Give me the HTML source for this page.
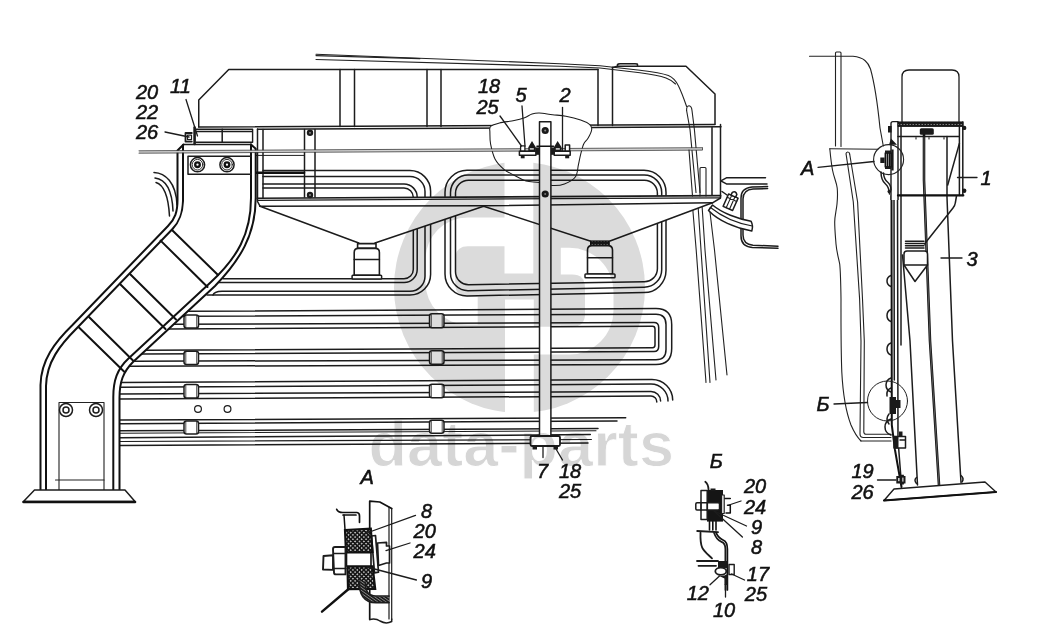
<!DOCTYPE html>
<html><head><meta charset="utf-8"><title>data-parts</title>
<style>
html,body{margin:0;padding:0;background:#fff;}
body{width:1040px;height:644px;overflow:hidden;}
svg{display:block}
.l{fill:none;stroke:#1c1c1c;stroke-width:1.5;stroke-linecap:round;stroke-linejoin:round}
.t{fill:none;stroke:#222;stroke-width:1.1;stroke-linecap:round;stroke-linejoin:round}
.k{fill:none;stroke:#111;stroke-width:1.9;stroke-linecap:round;stroke-linejoin:round}
.kk{fill:none;stroke:#111;stroke-width:2.6;stroke-linecap:round;stroke-linejoin:round}
.w{fill:#fff;stroke:#1c1c1c;stroke-width:1.5;stroke-linejoin:round}
.d{fill:#1a1a1a;stroke:none}
.n{font-family:"Liberation Sans",sans-serif;font-style:italic;font-size:20px;fill:#111;stroke:#111;stroke-width:.55px}
.wm{font-family:"Liberation Sans",sans-serif;font-weight:bold;font-size:63px;fill:#d6d6d6;stroke:#fff;stroke-width:1px;letter-spacing:.1px}
</style></head><body>
<svg width="1040" height="644" viewBox="0 0 1040 644">
<!-- ===== FRONT VIEW ===== -->
<!-- cab outline lines (top) -->
<g class="t">
<path d="M316,54.2 L560,63.7 L600,65.8 L640,70.2 C652,71.5 662,73 668.4,75.6 C673,77.5 676,81 678.5,86 C681.5,92 684,99 686.6,106.5"/>
<path d="M316,59.5 L560,66.3 L600,68 L640,72.7 C650,74 660,75.8 666,78 C670,79.5 673,81.5 675.5,84"/>
<path d="M316,55.6 L420,58.6"/>
<path d="M686.6,110.5 Q686.4,106 689,105.8 Q691.6,106 692,110.5 L694.4,129.5 L700,192.5"/>
<path d="M686.6,110.5 L690,129.5 L696,192.5"/>
</g>
<!-- tank -->
<g class="l">
<path d="M198.75,127 V100 L228.75,69.5 H598"/>
<path d="M612.5,67.5 L617.5,66.2 H686 L715,94 V124"/>
<path d="M617.5,66.2 V64.5 Q618,63.8 620,63.8 H635 Q637.5,63.8 637.5,64.5 V66.2"/>
<path d="M340,69.5 V126.5 M354.5,69.5 V126.5 M427,69.5 V126.5 M441,69.5 V126.5 M598,69.5 V125.5 M612.5,67.5 V125.5"/>
<path d="M198.75,127 L715,124.6"/>
<path d="M257.5,129.3 L721,126.8"/>
</g>
<!-- frame sides -->
<g class="l">
<path d="M257.5,129 V199 M263,129.5 V199"/>
<path d="M720.5,124.5 V196.5 M712,127.5 V196.5"/>
<path d="M304.5,129.5 V199 M315,129.5 V199"/>
</g>
<!-- cloud breakout -->
<path class="w" style="stroke-width:1.05" d="M490.6,126.5 C492.2,124.9 495.6,123.9 499.5,122.9 C503.4,121.9 510.0,121.5 514.2,120.6 C518.4,119.7 521.6,118.8 524.6,117.7 C527.6,116.6 529.5,114.8 532.0,114.0 C534.5,113.2 535.9,112.9 539.3,113.0 C542.7,113.1 548.2,114.2 552.6,114.7 C557.0,115.2 561.2,115.3 565.9,116.2 C570.6,117.1 576.7,118.6 580.6,119.9 C584.5,121.2 587.6,122.7 589.5,124.3 C591.4,125.9 592.0,127.2 591.7,129.5 C591.5,131.8 589.4,135.9 588.0,138.3 C586.6,140.8 584.8,141.5 583.6,144.2 C582.4,146.9 581.5,151.1 580.6,154.6 C579.7,158.1 579.2,161.2 578.4,164.9 C577.5,168.6 577.8,173.5 575.5,176.7 C573.2,179.9 568.2,182.5 564.4,184.0 C560.6,185.5 556.8,185.7 552.6,185.5 C548.4,185.3 543.7,183.3 539.3,182.6 C534.9,181.8 530.2,182.2 526.0,181.0 C521.8,179.8 517.9,177.1 514.2,175.2 C510.5,173.2 507.1,172.0 503.9,169.3 C500.7,166.6 497.2,163.2 495.0,159.0 C492.8,154.8 491.5,148.6 490.6,144.2 C489.8,139.8 489.9,135.3 489.9,132.4 C489.9,129.5 489.0,128.1 490.6,126.5 Z"/>
<!-- pipes inside frame / loops -->
<g class="l">
<path d="M263,170.6 H410 A20.6,20.6 0 0 1 430.6,191.2 V274.5 A20.6,20.6 0 0 1 410,295 H207"/>
<path d="M263,176.6 H410 A15,15 0 0 1 425,191.6 V276.25 A15,15 0 0 1 410,291.25 H222 Q214,291.5 213,295"/>
<path d="M263,184 H404 A13.2,13.2 0 0 1 417.2,197.2 V269.5 A13,13 0 0 1 404,282.5 H219"/>
<path d="M263,188 H404 A9.3,9.3 0 0 1 413.3,197.3 V269.5 A9.3,9.3 0 0 1 404,278.75 H223"/>
<path d="M255,155.4 H304.5" style="stroke-width:1"/>
<path d="M467,170.3 H644 A22,22 0 0 1 666,192.3 V270.6 A22,22 0 0 1 644,292.6 L467,295.9 A22,22 0 0 1 445,273.9 V192.3 A22,22 0 0 1 467,170.3 Z"/>
<path d="M468,175 H644.2 A17.5,17.5 0 0 1 661.7,192.5 V269.7 A17.5,17.5 0 0 1 644.2,287.2 L468,290.7 A17.5,17.5 0 0 1 450.5,273.2 V192.5 A17.5,17.5 0 0 1 468,175 Z"/>
<path d="M468.5,180.2 H644.4 A13,13 0 0 1 657.4,193.2 V268.7 A13,13 0 0 1 644.4,281.7 L468.5,284.7 A13,13 0 0 1 455.5,271.7 V193.2 A13,13 0 0 1 468.5,180.2 Z"/>
</g>
<path class="kk" d="M256,172.7 H304"/>
<!-- far-left pipe ends -->
<g class="l">
<path d="M154,172.5 C165,173 176,182 177,205"/><path d="M155,178 C163,179 172,186 173,211"/><path d="M156,182.5 C161,184 168,190 169.5,216"/>
</g>
<!-- U-turn pipes -->
<g class="l">
<path d="M186,311.3 L656,308.6 Q671.7,308.6 671.7,324.5 V348.5 Q671.7,364.5 656,364.5 L130,366.3"/>
<path d="M181,316.2 L656,314.2 Q666,314.2 666,324.5 V349.5 Q666,359.8 656,359.8 L135,361.2"/>
<path d="M173,324.2 L654,322.6 Q658.7,322.6 658.7,327.5 V346.5 Q658.7,351.5 654,351.5 L142,354"/>
<path d="M168,329 L652.5,326.3 Q655,326.3 655,329 V345 Q655,347.7 652.5,347.7 L146,350.2"/>
</g>
<!-- B3 pipes -->
<g class="l">
<path d="M120,382.5 L652,379.4 A20.7,20.7 0 0 1 672.7,400"/>
<path d="M120,387.3 L651,384 A17,17 0 0 1 668,401"/>
<path d="M120,394 L651,391.5 A9.6,9.6 0 0 1 660.6,401"/>
<path d="M120,399 L651,396.1 A5.8,5.8 0 0 1 656.8,402"/>
</g>
<!-- B4 pipes -->
<g class="l">
<path d="M120,420 L625.7,417.7"/><path d="M120,423.8 L617,421"/><path d="M120,430.8 L598,428.6"/><path d="M120,433.2 L596,430.8" style="stroke-width:1.1"/><path d="M120,437.7 L590.3,434.6"/><path d="M120,441.5 L591.4,439.5" style="stroke-width:1.2"/><path d="M120,445.4 L588,443"/>
</g>
<g class="l" style="stroke-width:1.2"><circle cx="198" cy="409" r="3.4"/><circle cx="227.5" cy="409" r="3.4"/></g>
<!-- clamps -->
<g class="w">
<rect x="184" y="315" width="14.5" height="13" rx="2.5"/><rect x="184" y="351.2" width="14.5" height="13.3" rx="2.5"/><rect x="184" y="384.5" width="14.5" height="13.5" rx="2.5"/><rect x="184" y="421" width="14.5" height="13" rx="2.5"/>
<rect x="429.5" y="313.7" width="14.5" height="14" rx="2.5"/><rect x="429.5" y="350.8" width="14.5" height="13.5" rx="2.5"/><rect x="429.5" y="384.3" width="14.5" height="13.5" rx="2.5"/><rect x="429.5" y="420.3" width="14.5" height="13" rx="2.5"/>
</g>
<g class="t" style="stroke-width:.8"><path d="M185.8,316.2 V326.8 M196.7,316.2 V326.8"/><path d="M185.8,352.4 V363.3 M196.7,352.4 V363.3"/><path d="M185.8,385.7 V396.8 M196.7,385.7 V396.8"/><path d="M185.8,422.2 V432.8 M196.7,422.2 V432.8"/><path d="M431.3,314.9 V326.5 M442.2,314.9 V326.5"/><path d="M431.3,352.0 V363.1 M442.2,352.0 V363.1"/><path d="M431.3,385.5 V396.6 M442.2,385.5 V396.6"/><path d="M431.3,421.5 V432.1 M442.2,421.5 V432.1"/></g>
<!-- right cables -->
<g class="t">
<path d="M692,200 L696.2,250 L706,382.5"/>
<path d="M698,205 L701,250 L710,382.5"/>
<path d="M702,205 L705,250 L716,380"/>
<path d="M709.5,208 L714.5,250 L727,375"/>
</g>
<!-- hoppers (white fill hides pipes) -->
<path d="M257.5,198 L720.5,195.4 L712.5,202.8 L610,241 H590 L483.6,206.2 L375,243 H358.75 L260,206.2 Z" fill="#fff" stroke="none"/>
<g class="l">
<path d="M257.5,198.3 L720.5,195.6" style="stroke-width:1.6"/><path d="M257.5,200.3 L720.5,197.8" style="stroke-width:1.3"/><path d="M259.8,206.2 L483.6,205.8 L712.5,202.7"/>
<path d="M260,206.2 L358.75,243 M375,243 L483.6,206.2 L590,241 M610,241 L712.5,202.8"/>
<path d="M257.5,198.3 V201.5 L260,206.2"/><path d="M720.5,195.6 V198 L712.5,202.8"/>
</g>
<!-- valves -->
<g>
<rect class="w" x="357.6" y="243.6" width="18.4" height="4.8" style="stroke-width:1.6"/>
<path class="w" d="M354.2,275.3 V252.5 Q354.2,248.4 358.3,248.4 H375.3 Q379.4,248.4 379.4,252.5 V275.3 Z" style="stroke-width:1.6"/>
<path class="l" d="M354.2,259.5 H379.4"/>
<rect class="w" x="352.1" y="275.3" width="29.5" height="3.8" rx=".8" style="stroke-width:1.5"/>
<rect x="590.6" y="241" width="18.6" height="4.6" fill="url(#hz)" stroke="#111" stroke-width="1.2"/>
<path class="w" d="M587.5,274 V250 Q587.5,245.6 592,245.6 H608 Q612.5,245.6 612.5,250 V274 Z" style="stroke-width:1.6"/>
<path class="l" d="M587.5,257.8 H612.5"/>
<rect class="w" x="585" y="274" width="30" height="3.7" rx=".8" style="stroke-width:1.5"/>
</g>
<!-- strap bolts -->
<g><circle cx="310" cy="132.8" r="3.2" class="d"/><circle cx="310" cy="195" r="3.2" class="d"/><circle cx="310" cy="132.8" r=".9" fill="#999"/><circle cx="310" cy="195" r=".9" fill="#999"/></g>
<!-- ===== BRACKET ===== -->
<path d="M183.5,144.5 H251 L255.7,148.7 V198 C255.7,235 240,260 215,286 L133,362 C123,372 119.5,382 119.5,398 V490 H40.5 V385 C41,360 55,342 72.5,325 L168,226 C175,219 177.5,212 177.5,200 V151 Z" fill="#fff" stroke="none"/>
<!-- top block (item 11) -->
<g class="l">
<path d="M196,129.2 H252.6 V142.2 H196" style="stroke-width:1.4"/>
<path d="M196,131.4 H252 M222.2,129.2 V142.2"/>
<path d="M194.6,127.5 V144" style="stroke-width:2.6"/>
<path d="M185.5,133 H191.8 M185.5,133 V141.6 H191.8" style="stroke-width:1.8"/>
<rect x="187.5" y="135.2" width="4" height="4.4" style="stroke-width:1.2"/>
</g>
<path class="l" style="stroke-width:1.5" d="M183.5,144.5 H251"/>
<g class="k" style="stroke-width:2">
<path d="M183.5,144.5 L177.5,150.5 V200 C177.5,212 175,219 168,226 L72.5,325 C55,342 41,360 40.5,385 V490"/>
<path d="M251,144.5 L255.7,148.7 V198 C255.7,235 240,260 215,286 L133,362 C123,372 119.5,382 119.5,398 V490"/>
<path d="M183,145 V201 C182.5,213 180,221 172.5,229 L77,328 C60,345 46.5,362 46,386 V490"/>
<path d="M251,144.5 V198 C251,234 237,258 211,282 L128.5,358.5 C117,369 113.3,381 113.3,397 V490"/>
<path d="M172,230 L218,275 M160.6,240.6 L207.5,287"/>
<path d="M130,274 L176,319.5 M120,284 L165.5,329"/>
<path d="M89,317 L133.5,361 M79,327.5 L124,371.5"/>
</g>
<!-- upper plate -->
<g class="l">
<path d="M251,156.3 H188 V174.2 H251" style="stroke-width:1.5"/>
<circle cx="197.5" cy="164.7" r="7.1"/><circle cx="197.5" cy="164.7" r="5.3" style="stroke-width:.9"/><circle cx="227" cy="164.7" r="7.1"/><circle cx="227" cy="164.7" r="5.3" style="stroke-width:.9"/>
</g>
<circle cx="197.5" cy="164.7" r="2.3" fill="#fff" stroke="#111" stroke-width="2.3"/><circle cx="227" cy="164.7" r="2.3" fill="#fff" stroke="#111" stroke-width="2.3"/>
<!-- lower plate -->
<g class="t">
<path d="M59,490 V402.5 H104 V490"/><path d="M55.5,480 H104"/>
</g>
<g class="l"><circle cx="66" cy="410" r="6.5"/><circle cx="66" cy="410" r="3"/><circle cx="96" cy="410" r="6.5"/><circle cx="96" cy="410" r="3"/></g>
<!-- base -->
<path class="w" d="M23.5,501.5 L34.5,490 H125 L135,501.5 Z" style="stroke-width:1.5"/>
<path class="kk" d="M23.5,502 H135"/>
<!-- rod -->
<path d="M139,152 L702,148.9" fill="none" stroke="#d4d4d4" stroke-width="2"/>
<path class="l" style="stroke-width:.8;stroke:#333" d="M139,150.8 L702,147.7 M139,153.2 L702.5,150.1 L702.5,147.7"/>
<!-- center bar -->
<path class="w" d="M539.5,436 V121.7 H550.9 V436 Z" style="stroke-width:1.5"/>
<g><circle cx="545.2" cy="130.5" r="3.6" class="d"/><circle cx="545.2" cy="194" r="3.6" class="d"/><circle cx="545.2" cy="130.5" r="1" fill="#888"/><circle cx="545.2" cy="194" r="1" fill="#888"/></g>
<!-- bar clamps -->
<g transform="translate(0,.8)">
<rect class="w" x="519.4" y="150.5" width="16.5" height="3.9" style="stroke-width:1.5"/>
<rect class="w" x="554.2" y="150.5" width="16" height="3.9" style="stroke-width:1.5"/>
<rect class="w" x="520.6" y="145" width="4.3" height="5.2" style="stroke-width:1.3"/>
<rect class="w" x="565.2" y="144.3" width="4.4" height="5.8" style="stroke-width:1.5"/>
<path class="d" d="M528.3,150.3 V146.5 L532,140.3 L535.8,146.5 V150.3 Z M553.9,150.3 V146.5 L557.6,140.3 L561.6,146.5 V150.3 Z"/>
<rect class="d" x="535.7" y="146.6" width="3.8" height="7.4"/><rect class="d" x="551" y="146.6" width="3.6" height="7.4"/>
<rect class="d" x="520.8" y="154.6" width="3.8" height="2.9"/><rect class="d" x="565.2" y="154.6" width="4" height="2.9"/>
<rect x="529.8" y="147.3" width="4" height="1.6" fill="#ccc"/><rect x="555.8" y="147.3" width="4" height="1.6" fill="#ccc"/>
<path class="k" d="M537,145.4 H553.5" style="stroke-width:1.6"/>
</g>
<!-- bar base -->
<rect class="w" x="530.5" y="436" width="29.5" height="10" rx="1.5" style="stroke-width:1.8"/>
<g class="d"><rect x="532.5" y="446" width="4.5" height="3.5"/><rect x="553.5" y="446" width="4.5" height="3.5"/></g>
<!-- ===== right of frame: fitting, hose, C-shape ===== -->
<g class="l">
<path d="M767.6,186.6 L752,187 Q741,188 741,198 V236 Q741,246.5 752.3,247.4 L778,248.2"/>
<path d="M767.6,188.6 L753,189 Q743,189.8 743,199 V235 Q743,244.3 753,245.2 L778,246.2"/>
<path d="M765.5,177.8 H726.4 L720.8,180.8 L726.4,183.9 H767"/>
</g>
<path class="w" d="M712.5,205 C722,213 738,219 751,221.2 Q753.5,226 751.8,231 C735,228 718,220.5 708.5,210.5 Z"/>
<path class="l" style="stroke-width:1.1" d="M710.5,207.5 C721,216 737,223.3 752.3,226"/>
<g transform="translate(730.5,202.5) rotate(24)"><rect class="w" x="-5.2" y="-7" width="10.4" height="13.5"/><path class="l" style="stroke-width:1.1" d="M-1.8,-7 V6.5 M1.8,-7 V6.5 M-5.2,-3.5 H5.2"/><path class="w" d="M-2.5,-7 V-10 Q0,-13 2.5,-10 V-7 Z"/></g>
<path class="l" d="M722,191.5 L727,195"/>
<g class="t"><path d="M700,196 V168.5 Q700,167.5 701,167.5 H705 Q706,167.5 706,168.5 V196"/><path d="M689,150 L692.5,196"/></g>
<!-- ===== SIDE VIEW ===== -->
<g class="t">
<path d="M809.5,56.3 H853 C864,57.5 868,62 870.5,69 C875,85 878,108 880,128 L883.3,146"/>
<path d="M835.5,146 V53 Q835.5,52 836.5,52 H840 Q841,52 841,53 V146.5"/>
<path d="M829.8,148.7 L878,149.3"/>
<path d="M829.8,148.7 C830.5,156 831,162 832.5,170 C834,178 836.5,182 837.2,188 C837.8,194 837.6,198 837,204 C836.3,211 834.7,216 834.7,222 C834.7,230 835.6,238 836,244 C836.6,252 838.6,258 839.7,264 C840.6,272 840.8,285 841,299 C841,320 840.8,345 841.8,372 C843,395 846,412 851,425 C854,432 857,437 861,441"/>
<path d="M846,154 Q846,152 847.8,152 Q849.6,152 849.6,154 M846,153.5 L853.3,202 L859.6,299 L861,341 L860,434 Q860,437.5 863.5,437.5 H891"/>
<path d="M849.6,153.5 L857.6,202 L862.5,299 L864.3,341 L863.8,432 Q864,434.3 866,434.3 H891"/>

<path d="M861,441 H891"/>
</g>
<!-- tank side -->
<path class="l" style="stroke-width:1.3" d="M902,122 V77 Q902,70 909,70 H952 Q959,70 959,77 V122"/>
<!-- post lines -->
<g class="l">
<path d="M894,200 L894.3,380"/>
<path d="M897.5,196 L898,440 L901.5,485"/>
<path d="M901,196 V345"/><path d="M902.5,255 L910,341 L917.5,485"/>
<path d="M947,136.4 V197.5 L952.5,341 L961,482.5"/>

<path d="M959.4,143.4 L947.7,185"/>
</g>
<path d="M924,132 V180 L930,341 L939,485" fill="none" stroke="#111" stroke-width="2.6"/><path d="M924,136 V180 L930,341 L939,485" fill="none" stroke="#8a8a8a" stroke-width=".6"/>
<path class="k" d="M891.5,196 L891.8,425 L895,450 L901.5,487" style="stroke-width:2"/>
<!-- frame -->
<g>
<path class="w" d="M891,200 V123.5 Q891,121.6 893,121.6 H898 V200" style="stroke-width:1.4"/>
<rect x="898" y="121.9" width="65" height="4.6" fill="url(#hz)" stroke="#111" stroke-width=".8"/>
<path class="l" d="M898,136.4 H959.4 M901,126.8 V195.4 M959.4,126.8 V195.4 M962.8,122 V195.4"/>
<path class="k" d="M898,195.4 H963.3" style="stroke-width:2.2"/>
<rect class="d" x="919.8" y="128.3" width="14" height="6.5" rx="1.5"/>
<circle class="d" cx="964.2" cy="127.9" r="2.2"/><circle class="d" cx="964.2" cy="190.7" r="2.2"/><circle class="d" cx="889.3" cy="191.5" r="1.8"/>
<path class="t" d="M916,137.5 V139 M929,137.5 V139 M944,137.5 V139"/>
</g>
<!-- hopper side + valve -->
<g class="l">
<path d="M956.5,196 L955.3,203 Q955,205.5 953,208 L924.5,244"/>
<path d="M905.5,241.3 H924 M905.5,243.5 H924 M905.5,245.8 H924 M905.5,248 H924"/>
<path d="M904,265 V254 Q904,251 907,251 H924.5 Q927.5,251 927.5,254 V265 L915,281.5 Z" fill="#fff"/>
<path d="M904,265 H927.5"/>
</g>
<!-- bumps -->
<g class="l">
<path d="M891,275.5 Q887,277 887,281 Q887,285 891,286.5"/><path d="M891,309.5 Q887,311 887,315.5 Q887,320 891,321.5"/><path d="M891,343 Q887,344.5 887,349 Q887,353.5 891,355"/>
<path d="M891,378 Q886,380 886,385 Q886,390 891,392"/><path d="M891,419 Q885,421 885,427 Q885,433 891,435"/>
</g>
<!-- circle A -->
<g>
<circle class="t" cx="888.6" cy="159.6" r="15" style="stroke-width:1.1"/>
<path class="d" d="M880.3,157.5 H884.6 V163 H880.3 Z"/>
<path class="k" style="stroke-width:1.5" d="M885.3,153 H891.3 V167 H885.3 Z M887.3,153 V167 M889.3,153 V167"/>
<path class="d" d="M891.3,149.5 H893.6 V170.5 H891.3 Z M885,150.5 H891 V153 H885 Z M885,166.5 H891 V169 H885 Z"/>
<path class="d" d="M891,138.5 L897,144.8 H889 Z"/>
<path class="d" d="M888,126 h3.6 v6.5 h-3.6 z"/>
<path class="l" d="M881,172 C881,178 882.5,181.5 885.5,184 C888,186 889,188 889.5,194"/>
<path class="l" d="M883.5,173 C883.8,177.5 885,180 887.5,182 C890,184 891,186 891,190"/>
</g>
<!-- circle B -->
<g>
<circle class="t" cx="887.5" cy="401" r="20" style="stroke-width:1"/>
<rect class="d" x="889.5" y="397" width="6.5" height="17"/><rect class="d" x="896" y="400" width="4.5" height="8"/>
<path class="l" d="M891,388 Q886,390 887,396 M889,414 Q885,419 889,424"/>
</g>
<!-- lower bracket -->
<g><rect class="w" x="894" y="436.5" width="11.5" height="11.5"/><rect class="d" x="894" y="436.5" width="4.5" height="12"/><rect class="d" x="899" y="431.5" width="3.5" height="5"/><path class="l" d="M900,440 H905"/></g>
<!-- nut 19 -->
<g><path class="d" d="M896.3,476 h4 v-1.2 h3.6 v1.2 h1.6 v7.4 h-1.6 v1 h-3.6 v-1 h-4 z"/><rect x="898" y="478" width="1.6" height="3.2" fill="#ccc"/><rect x="902.2" y="477.6" width="1.3" height="4" fill="#ccc"/>
<path class="l" d="M916.5,477.5 Q913.5,480 916.5,483.5 M961,475.5 Q964.5,478.5 962,482"/></g>
<!-- base -->
<path class="w" d="M884,500.5 L894,489 L985,482 L996,492 Z" style="stroke-width:1.4"/>
<path class="k" d="M884,500.5 L996,492" style="stroke-width:2.2"/>
<!-- ===== DETAIL A ===== -->
<defs>
<pattern id="hx" width="3.1" height="3.1" patternUnits="userSpaceOnUse" patternTransform="rotate(45)"><rect width="3.1" height="3.1" fill="#161616"/><circle cx="1.55" cy="1.55" r=".85" fill="#e0e0e0"/></pattern>
<pattern id="hy" width="2.4" height="2.4" patternUnits="userSpaceOnUse" patternTransform="rotate(35)"><rect width="2.4" height="2.4" fill="#1c1c1c"/><rect width="2.4" height=".6" fill="#aaa"/></pattern>
<pattern id="hz" width="3" height="3" patternUnits="userSpaceOnUse"><rect width="3" height="3" fill="#1a1a1a"/><rect x=".6" y="1" width="1.2" height=".8" fill="#bbb"/></pattern>
</defs>
<g>
<path class="l" d="M391.7,508.5 V619.4 M389,507 V619" style="stroke-width:1.2"/>
<path class="k" d="M369.7,619.4 V501.1 L379.8,502 L391.7,508.5" style="stroke-width:1.7"/>
<path class="l" d="M369.7,619.4 Q376,618 380,621 Q386,624.5 391.7,621.5 V619"/>
<path class="k" d="M336.7,509.4 Q338,512.5 343,512.5 H357 Q359.5,512.8 359.5,516 V522.3 M343,515 H356" style="stroke-width:1.7"/>
<path class="k" d="M344,515 L345,529.5" style="stroke-width:1.5"/>
<!-- washer + head right -->
<path class="w" d="M371.5,536 L375.5,535.5 L378.5,572.2 L374.5,572.8 Z" style="stroke-width:1.7"/>
<path class="w" d="M377.5,543 L386.5,542.4 V546 H389.5 V563 H386.5 L378.5,565.5 Z" style="stroke-width:1.7"/>
<!-- rubber blocks -->
<path d="M345,530 L370.8,528.6 L372.5,552 L346,552.6 Z" fill="url(#hx)" stroke="#111" stroke-width="2.2"/>
<path d="M347.5,566.3 L372.6,566.3 L375.2,589 L348,589.2 Z" fill="url(#hx)" stroke="#111" stroke-width="2.2"/>
<path d="M346.5,552.8 H371 V566 H346.5 Z" fill="#fff" stroke="#111" stroke-width="1.6"/>
<!-- nut + bolt end -->
<path class="w" d="M333,549 Q333,547 335,547 H345.5 V574.4 H336 Q334,574.4 334,572.5 Z" style="stroke-width:1.9"/>
<path class="l" d="M333.5,553.5 H346 M334,568.5 H346"/>
<path class="w" d="M323.5,556 L333,555.2 V569.9 L323,569.5 Z" style="stroke-width:1.9"/>
<!-- bent piece -->
<path d="M362.5,581 C362,592 366,599.3 376,599.3 H389" fill="none" stroke="url(#hy)" stroke-width="6.2"/>
<path class="l" style="stroke-width:1.7" d="M359.4,581 C358.7,594 364,602.6 376,602.6 H389 M365.6,583 C365.3,591 368,596 376,596 H389"/>
<path class="kk" d="M348.6,589 L322,611.7" style="stroke-width:2.4"/>
</g>
<!-- ===== DETAIL B ===== -->
<g style="stroke-width:1.9">
<path class="l" style="stroke-width:1.8" d="M705.3,481.8 Q708.3,484 708.6,490"/>
<rect x="707" y="490" width="16" height="31.6" fill="#151515"/>
<rect class="d" x="710.5" y="488.5" width="5" height="2.5"/>
<rect class="w" x="701" y="490.5" width="6.2" height="29" style="stroke-width:1.5"/>
<rect class="w" x="695.8" y="502.7" width="23.7" height="7.3" rx="1.2" style="stroke-width:1.5"/>
<path class="l" style="stroke-width:1.8" d="M701,502.7 V510 M707.2,502.7 V510"/>
<rect class="w" x="721.6" y="495" width="2.6" height="18.5" style="stroke-width:1.2"/>
<path class="k" d="M725,498.6 H730.3 M727.5,505.2 H730.3 V513 H726" style="stroke-width:1.5"/>
<path class="k" d="M709.5,521.6 V530 M716,521.6 V530 M712.8,521.6 V530" style="stroke-width:1.6"/>
<path class="l" style="stroke-width:1.8" d="M697.2,531 L718,532.2"/>
<path class="l" style="stroke-width:1.8" d="M700.5,532.7 C700.3,539 700.6,544 702.2,547.6 C704,551.5 708,554.5 712,558.4"/>
<path class="l" style="stroke-width:1.8" d="M714,532.7 C716,538.5 718,540.5 721.5,541.8 C724.8,543 725.4,545.5 725.4,549 V563"/>
<path class="k" d="M716,532.7 C718,537 720,538.8 723,540 C727,541.6 727.4,545 727.4,549 V590" style="stroke-width:1.7"/>
<path class="l" style="stroke-width:1.8" d="M697,561 H718 M698.5,565.8 H716"/>
<rect class="d" x="718" y="561" width="9.8" height="7"/>
<ellipse class="w" cx="720.8" cy="571.2" rx="5.5" ry="3.6" style="stroke-width:1.8"/>
<path class="d" d="M717,575 Q722,577.5 727.8,574 V585 H724.5 V578.5 Z"/>
<rect class="w" x="729" y="564.5" width="5.2" height="10" style="stroke-width:1.4"/>
<path class="l" style="stroke-width:1.8" d="M725.5,585 V590"/>
</g>
<!-- labels -->
<g class="n">
<text x="136" y="99">20</text><text x="136" y="118.5">22</text><text x="136" y="139">26</text><text x="170" y="92.5">11</text>
<text x="478" y="93">18</text><text x="476.5" y="114">25</text><text x="515.5" y="101.8">5</text><text x="559.5" y="101.8">2</text>
<text x="537" y="477.8">7</text><text x="559" y="477.5">18</text><text x="559" y="497.5">25</text>
<text x="801" y="175">А</text><text x="980.5" y="185.3">1</text><text x="966.5" y="266">3</text><text x="816.5" y="411">Б</text>
<text x="851.5" y="477.5">19</text><text x="851.5" y="498.5">26</text>
<text x="360.5" y="484">А</text><text x="421" y="517.6">8</text><text x="413.6" y="538">20</text><text x="413.6" y="558">24</text><text x="421" y="588">9</text>
<text x="709.7" y="468">Б</text><text x="744" y="493">20</text><text x="744" y="513.5">24</text><text x="751" y="533.8">9</text><text x="751" y="553.6">8</text>
<text x="746.8" y="580.7">17</text><text x="744.8" y="601">25</text><text x="686.7" y="599.6">12</text><text x="713" y="616.5">10</text>
</g>
<!-- leaders -->
<g class="l" style="stroke-width:1.3">
<path d="M186,99.5 L197.5,136"/><path d="M165,132 L189,137"/>
<path d="M500,116 L521.5,146"/><path d="M522,106 L525,146"/><path d="M562.5,107.5 V151"/>
<path d="M543,446 V457.5"/><path d="M556,449 L562.5,460"/>
<path d="M818,167.3 L874,161.5"/><path d="M957.5,177.5 H977"/><path d="M941,258 H962"/><path d="M834,404 L867.5,402.5"/><path d="M877.5,480 H896"/>
<path d="M415.5,515.4 L364,534"/><path d="M410,543 L386,550.6"/><path d="M416.4,580 L367,567"/>
<path d="M741,501 L729,505"/><path d="M746.5,526 L714,511"/><path d="M742.4,537 L714,511"/>
<path d="M744.5,580 L731.6,574"/><path d="M710,584.7 L719.5,576"/><path d="M725.5,597 V576"/>
</g>
<!-- watermark -->
<g id="wm" style="mix-blend-mode:multiply">
<circle cx="519.5" cy="287.5" r="125.5" fill="#dbdbdb"/>
<g fill="#fff">
<path d="M506,217.5 H467.5 A42,42 0 0 0 425.5,259.5 V282.6 A42,42 0 0 0 467.5,324.6 H477.7 V290 H506 Z"/>
<path d="M532,354.5 H569.5 A44,44 0 0 0 613.5,310.5 V291.8 A44,44 0 0 0 569.5,247.8 H560.8 V283 H532 Z"/>
</g>
<g fill="#dbdbdb">
<path d="M506,246.3 H468 Q455.3,246.3 455.3,259 V284 Q455.3,296.7 468,296.7 H506 Z"/>
<path d="M532,326.8 H572 Q585,326.8 585,313.8 V287.6 Q585,274.6 572,274.6 H532 Z"/>
</g>
<g fill="#fff">
<rect x="504.5" y="158" width="28.8" height="115.5"/>
<rect x="505" y="299.5" width="28.8" height="117"/>
</g>
<text class="wm" x="368.5" y="465.8">data-parts</text>
</g>
</svg></body></html>
